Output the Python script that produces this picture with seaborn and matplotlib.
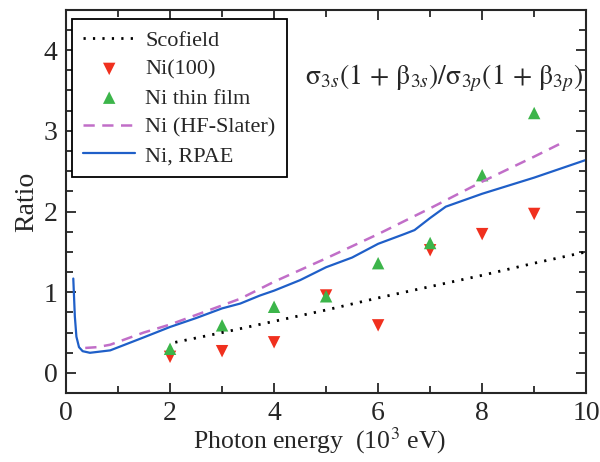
import matplotlib
matplotlib.use("Agg")
import pandas as pd
import matplotlib.pyplot as plt
import seaborn as sns
from matplotlib.ticker import MultipleLocator

# Ni(100) and thin film measurements
energy_pts = [2, 3, 4, 5, 6, 7, 8, 9]
ni100 = [0.20, 0.27, 0.38, 0.96, 0.59, 1.52, 1.72, 1.97]
thin_film = [0.30, 0.59, 0.82, 0.95, 1.36, 1.61, 2.45, 3.22]

# Scofield
sco_x = [2.1, 3.0, 4.0, 5.0, 6.0, 7.0, 8.0, 9.0, 10.0]
sco_y = [0.38, 0.50, 0.64, 0.78, 0.93, 1.07, 1.21, 1.36, 1.50]

# HF-Slater
hf_x = [0.37, 0.6, 0.85, 1.49, 2.0, 3.35, 4.0, 5.0, 6.0, 7.0, 8.0, 9.0, 9.5]
hf_y = [0.31, 0.32, 0.35, 0.50, 0.60, 0.92, 1.13, 1.42, 1.72, 2.04, 2.37, 2.68, 2.84]

# RPAE
rpae_x = [0.14, 0.17, 0.20, 0.25, 0.32, 0.46, 0.85, 1.49, 2.0, 2.5, 3.0, 3.35,
          3.73, 4.0, 4.5, 5.0, 5.5, 6.0, 6.5, 6.7, 7.0, 7.3, 8.0, 9.0, 10.0]
rpae_y = [1.17, 0.70, 0.45, 0.32, 0.27, 0.25, 0.28, 0.44, 0.57, 0.68, 0.80, 0.86,
          0.96, 1.02, 1.15, 1.31, 1.43, 1.60, 1.72, 1.77, 1.92, 2.06, 2.22, 2.42, 2.64]

pts = pd.DataFrame({"E": energy_pts, "ni100": ni100, "film": thin_film})

sns.set_style("ticks")
plt.rcParams["font.family"] = "serif"
plt.rcParams["font.serif"] = ["Liberation Serif"]
plt.rcParams["mathtext.fontset"] = "stix"

fig = plt.figure(figsize=(6, 4.62), dpi=100)
ax = fig.add_axes([0.11, 0.149, 0.867, 0.830])

sns.lineplot(x=sco_x, y=sco_y, ax=ax, color="black", lw=2.0,
             linestyle=(0, (0.8, 2.6)), label="Scofield")
sns.scatterplot(data=pts, x="E", y="ni100", ax=ax, marker="v", color="#f0301e",
                s=80, edgecolor="none", label="Ni(100)")
sns.scatterplot(data=pts, x="E", y="film", ax=ax, marker="^", color="#3cb54a",
                s=80, edgecolor="none", label="Ni thin film")
sns.lineplot(x=hf_x, y=hf_y, ax=ax, color="#c16ec8", lw=1.8,
             linestyle=(0, (4.5, 3)), label="Ni (HF-Slater)")
sns.lineplot(x=rpae_x, y=rpae_y, ax=ax, color="#1f5fc8", lw=1.6,
             label="Ni, RPAE", sort=False)

ax.set_xlim(0, 10)
ax.set_ylim(-0.25, 4.5)
ax.xaxis.set_major_locator(MultipleLocator(2))
ax.xaxis.set_minor_locator(MultipleLocator(1))
ax.yaxis.set_major_locator(MultipleLocator(1))
ax.yaxis.set_minor_locator(MultipleLocator(0.25))
ax.tick_params(which="both", direction="in", top=True, right=True,
               width=1.3, labelsize=20, pad=6)
ax.tick_params(which="major", length=7)
ax.tick_params(which="minor", length=5)
for sp in ax.spines.values():
    sp.set_linewidth(1.5)

ax.set_xlabel("Photon energy  (10$^3$ eV)", fontsize=18.5, labelpad=1)
ax.xaxis.set_label_coords(0.487, -0.085)
ax.set_ylabel("Ratio", fontsize=20, labelpad=3)

ax.text(0.727, 0.82,
        r"$\mathrm{\sigma}_{3s}(1\,+\,\mathrm{\beta}_{3s})/\mathrm{\sigma}_{3p}(1\,+\,\mathrm{\beta}_{3p})$",
        transform=ax.transAxes, ha="center", va="center", fontsize=20)

h, l = ax.get_legend_handles_labels()
leg = ax.legend(h, l, loc="upper left", bbox_to_anchor=(0.0115, 0.975),
                fontsize=16, frameon=True, fancybox=False, edgecolor="black",
                framealpha=1, handlelength=2.35, handletextpad=0.45,
                labelspacing=0.37, borderpad=0.5, borderaxespad=0)
leg.get_frame().set_linewidth(1.3)

fig.savefig("out.png", dpi=100)
